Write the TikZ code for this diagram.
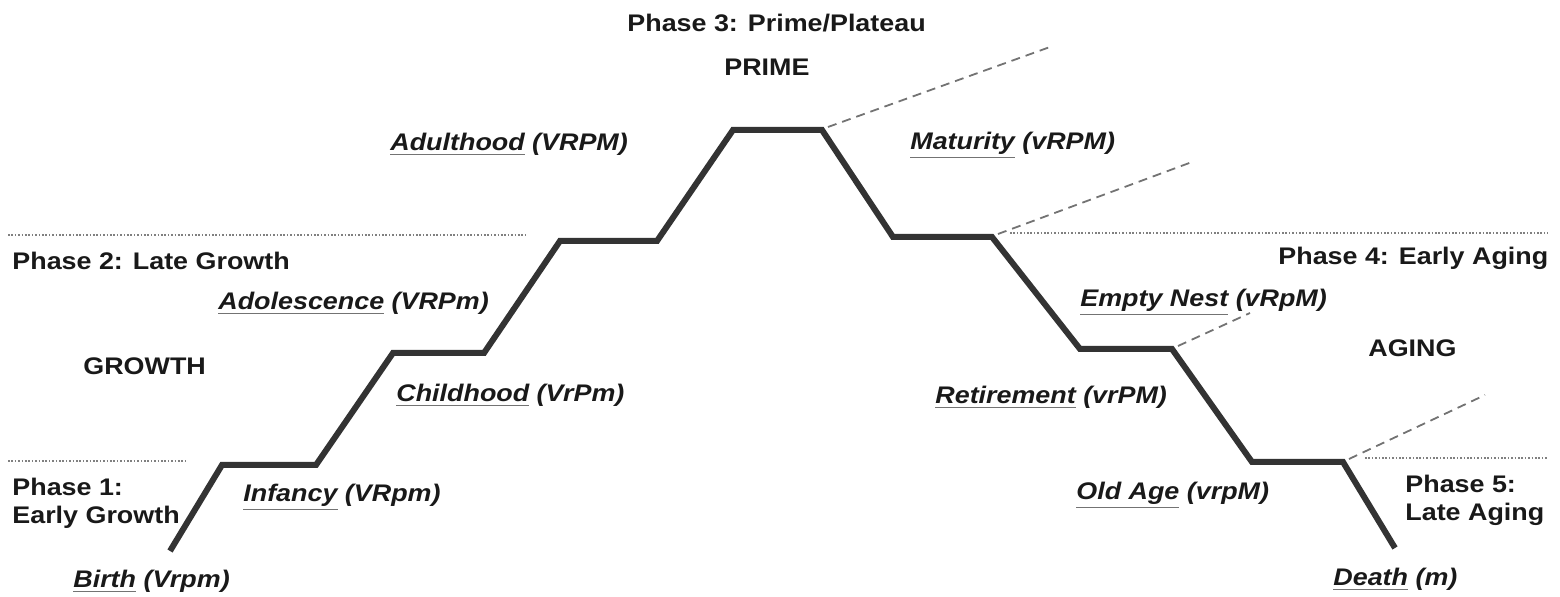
\documentclass[tikz,border=0pt]{standalone}
\usepackage{fontspec}
\setmainfont[FakeStretch=1.12]{Liberation Sans}
\usetikzlibrary{positioning}
\newcommand{\stagename}[1]{{\color{black!55}\underline{\textcolor{black!90}{#1}}}}

\begin{document}
\begin{tikzpicture}[x=0.5pt, y=-0.5pt]
    \tikzstyle{phase} = [inner sep=0, anchor=base west, font=\fontsize{12}{14}\selectfont\bfseries, align=left, text=black!90]
    \tikzstyle{stage} = [inner sep=0, anchor=base west, font=\fontsize{12}{14}\selectfont\bfseries\itshape, text=black!90]
    \tikzstyle{stair} = [line width=3pt, black!80, line join=miter]
    \tikzstyle{border} = [gray, line width=0.8pt, dash pattern=on 0.8pt off 0.9pt]
    \tikzstyle{lead} = [black!55, line width=0.9pt, dash pattern=on 4.5pt off 3pt]
    \useasboundingbox (0,0) rectangle (1560,597);
    % corners of the life stair
    \coordinate (s0) at (170,551);
    \coordinate (s1) at (222,465);
    \coordinate (s2) at (316,465);
    \coordinate (s3) at (393,353);
    \coordinate (s4) at (484,353);
    \coordinate (s5) at (560,241);
    \coordinate (s6) at (657,241);
    \coordinate (s7) at (733,130);
    \coordinate (s8) at (822,130);
    \coordinate (s9) at (893,237);
    \coordinate (s10) at (992,237);
    \coordinate (s11) at (1080,349);
    \coordinate (s12) at (1172,349);
    \coordinate (s13) at (1252,462);
    \coordinate (s14) at (1343,462);
    \coordinate (s15) at (1395,548);
    \draw[stair] (s0) -- (s1) -- (s2) -- (s3) -- (s4) -- (s5) -- (s6) -- (s7)
        -- (s8) -- (s9) -- (s10) -- (s11) -- (s12) -- (s13) -- (s14) -- (s15);

    % phase borders
    \coordinate (l1a) at (8,235);
    \coordinate (l1b) at (525,235);
    \coordinate (l2a) at (8,461);
    \coordinate (l2b) at (187,461);
    \coordinate (r1a) at (1010,233);
    \coordinate (r1b) at (1548,233);
    \coordinate (r2a) at (1365,458);
    \coordinate (r2b) at (1548,458);
    \draw[border] (l1a) -- (l1b);
    \draw[border] (l2a) -- (l2b);
    \draw[border] (r1a) -- (r1b);
    \draw[border] (r2a) -- (r2b);

    % dashed leads off the way down
    \coordinate (d1) at (1050,47);
    \coordinate (d2) at (1192,162);
    \coordinate (d3) at (1250,313);
    \coordinate (d4) at (1485,395);
    \draw[lead] ([shift={(6,-3)}]s8) -- (d1);
    \draw[lead] ([shift={(6,-3)}]s10) -- (d2);
    \draw[lead] ([shift={(6,-3)}]s12) -- (d3);
    \draw[lead] ([shift={(6,-3)}]s14) -- (d4);

    % phases
    \node [phase] at (627,32) (p3) {Phase 3: Prime/Plateau};
    \node [phase] at (724,76) (prime) {PRIME};
    \node [phase] at (12,270) (p2) {Phase 2: Late Growth};
    \node [phase] at (83,375) (growth) {GROWTH};
    \node [phase, anchor=north west] at (12,478) (p1) {Phase 1:\\Early Growth};
    \node [phase] at (1278,265) (p4) {Phase 4: Early Aging};
    \node [phase] at (1368,357) (aging) {AGING};
    \node [phase, anchor=north west] at (1405,475) (p5) {Phase 5:\\Late Aging};

    % stages
    \node [stage] at (390,151) (adult) {\stagename{Adulthood} (VRPM)};
    \node [stage] at (218,310) (adol) {\stagename{Adolescence} (VRPm)};
    \node [stage] at (396,402) (child) {\stagename{Childhood} (VrPm)};
    \node [stage] at (243,502) (infant) {\stagename{Infancy} (VRpm)};
    \node [stage] at (73,588) (birth) {\stagename{Birth} (Vrpm)};
    \node [stage] at (910,150) (mature) {\stagename{Maturity} (vRPM)};
    \node [stage] at (1080,307) (nest) {\stagename{Empty Nest} (vRpM)};
    \node [stage] at (935,404) (retire) {\stagename{Retirement} (vrPM)};
    \node [stage] at (1076,500) (old) {\stagename{Old Age} (vrpM)};
    \node [stage] at (1333,586) (death) {\stagename{Death} (m)};
\end{tikzpicture}
\end{document}
